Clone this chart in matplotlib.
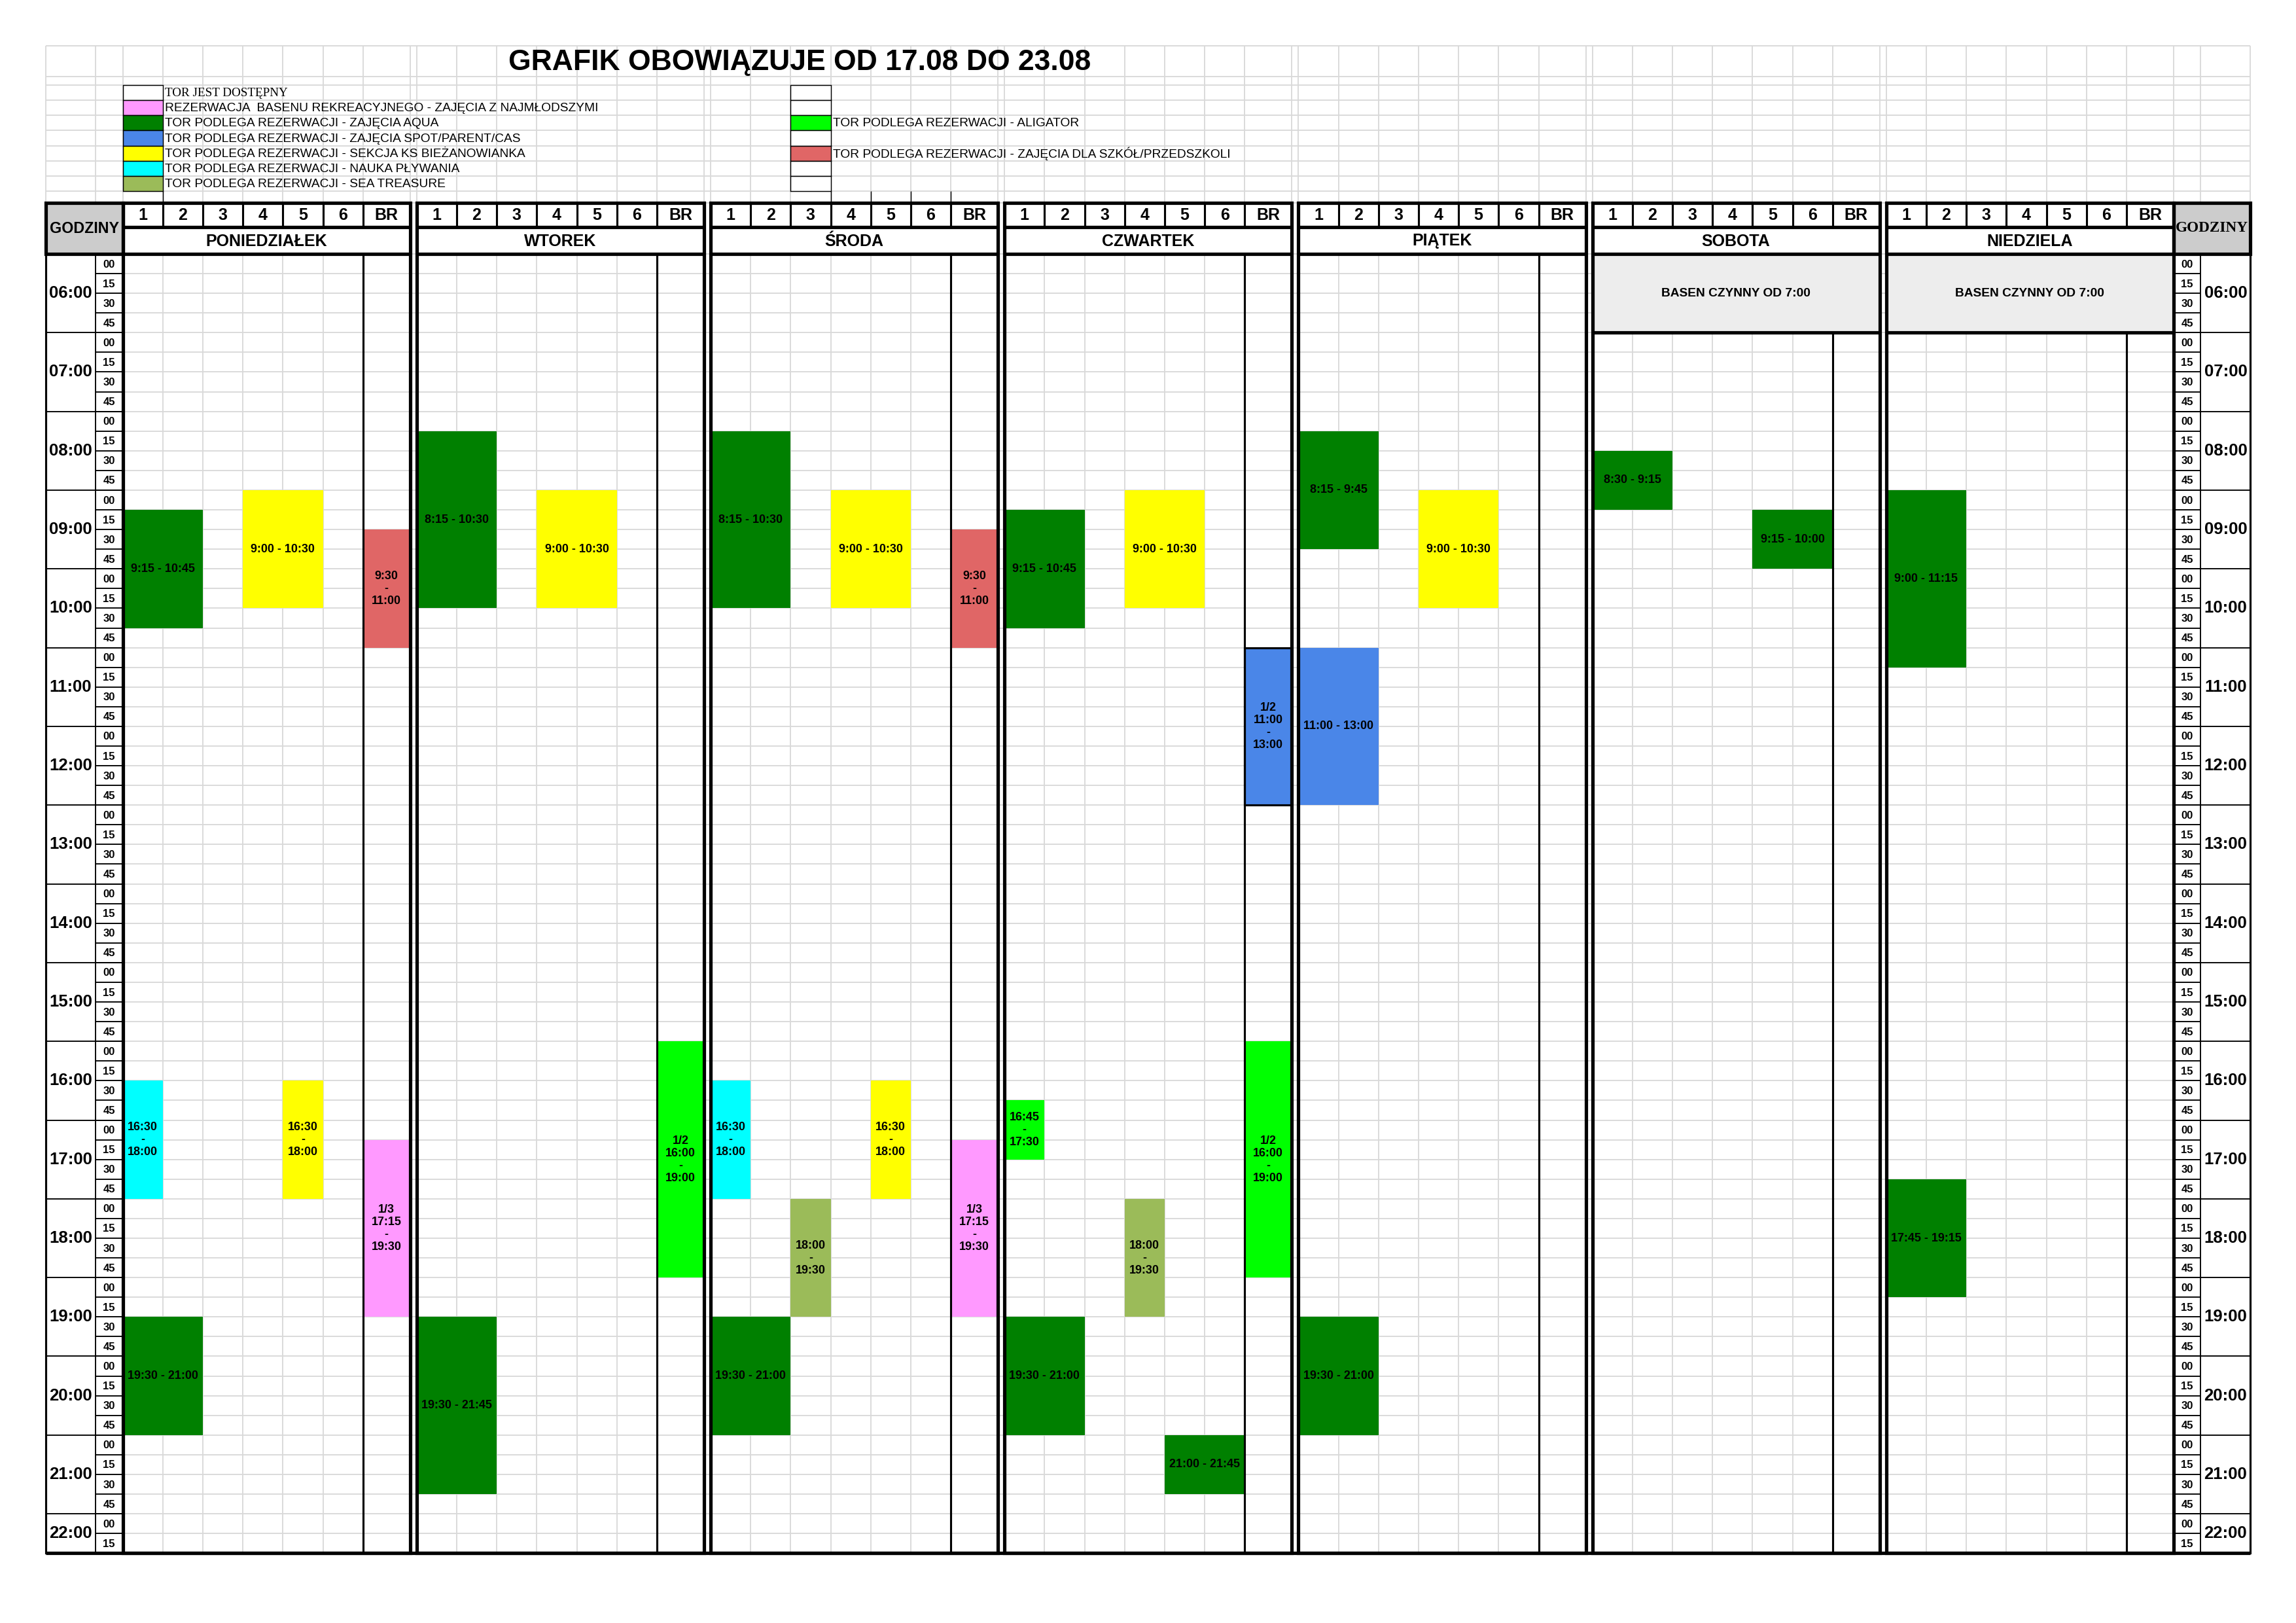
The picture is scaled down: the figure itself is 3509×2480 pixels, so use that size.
import matplotlib
matplotlib.use('Agg')
import matplotlib.pyplot as plt
from matplotlib.patches import Rectangle
from matplotlib import font_manager

# fonts: condensed sans if available
names = {f.name for f in font_manager.fontManager.ttflist}
NARROW = 'Liberation Sans Narrow' if 'Liberation Sans Narrow' in names else 'Liberation Sans'
SANS = 'Liberation Sans'
SERIF = 'Liberation Serif'

# ---------------- data ----------------
title = 'GRAFIK OBOWIĄZUJE OD 17.08 DO 23.08'
days = ['PONIEDZIAŁEK', 'WTOREK', 'ŚRODA', 'CZWARTEK', 'PIĄTEK', 'SOBOTA', 'NIEDZIELA']
lanes = ['1', '2', '3', '4', '5', '6', 'BR']
hours = list(range(6, 23))
minutes = ['00', '15', '30', '45']
last_hour_rows = 2  # 22:00 has only 00 and 15

colors = {
    'wolny': '#FFFFFF',
    'rekre': '#FF99FF',
    'aqua': '#008000',
    'spot': '#4A86E8',
    'ks': '#FFFF00',
    'nauka': '#00FFFF',
    'sea': '#9BBB59',
    'aligator': '#00FF00',
    'szkoly': '#E06666',
}

legend_left_kinds = ['wolny', 'rekre', 'aqua', 'spot', 'ks', 'nauka', 'sea']
legend_left_texts = ['TOR JEST DOSTĘPNY',
                     'REZERWACJA  BASENU REKREACYJNEGO - ZAJĘCIA Z NAJMŁODSZYMI',
                     'TOR PODLEGA REZERWACJI - ZAJĘCIA AQUA',
                     'TOR PODLEGA REZERWACJI - ZAJĘCIA SPOT/PARENT/CAS',
                     'TOR PODLEGA REZERWACJI - SEKCJA KS BIEŻANOWIANKA',
                     'TOR PODLEGA REZERWACJI - NAUKA PŁYWANIA',
                     'TOR PODLEGA REZERWACJI - SEA TREASURE']
legend_right_kinds = [None, None, 'aligator', None, 'szkoly', None, None]
legend_right_texts = ['', '', 'TOR PODLEGA REZERWACJI - ALIGATOR', '',
                      'TOR PODLEGA REZERWACJI - ZAJĘCIA DLA SZKÓŁ/PRZEDSZKOLI', '', '']

closed_days = [5, 6]
closed_until = '7:00'
closed_text = 'BASEN CZYNNY OD 7:00'

# reservations: day, first lane, last lane, start, end, kind, label
blk_day = [0, 0, 0, 0, 0, 0, 0,
           1, 1, 1, 1,
           2, 2, 2, 2, 2, 2, 2, 2,
           3, 3, 3, 3, 3, 3, 3, 3,
           4, 4, 4, 4,
           5, 5,
           6, 6]
blk_l0 = [0, 3, 6, 0, 4, 6, 0,
          0, 3, 6, 0,
          0, 3, 6, 0, 4, 2, 6, 0,
          0, 3, 6, 0, 6, 3, 0, 4,
          0, 3, 0, 0,
          0, 4,
          0, 0]
blk_l1 = [1, 4, 6, 0, 4, 6, 1,
          1, 4, 6, 1,
          1, 4, 6, 0, 4, 2, 6, 1,
          1, 4, 6, 0, 6, 3, 1, 5,
          1, 4, 1, 1,
          1, 5,
          1, 1]
blk_start = ['9:15', '9:00', '9:30', '16:30', '16:30', '17:15', '19:30',
             '8:15', '9:00', '16:00', '19:30',
             '8:15', '9:00', '9:30', '16:30', '16:30', '18:00', '17:15', '19:30',
             '9:15', '9:00', '11:00', '16:45', '16:00', '18:00', '19:30', '21:00',
             '8:15', '9:00', '11:00', '19:30',
             '8:30', '9:15',
             '9:00', '17:45']
blk_end = ['10:45', '10:30', '11:00', '18:00', '18:00', '19:30', '21:00',
           '10:30', '10:30', '19:00', '21:45',
           '10:30', '10:30', '11:00', '18:00', '18:00', '19:30', '19:30', '21:00',
           '10:45', '10:30', '13:00', '17:30', '19:00', '19:30', '21:00', '21:45',
           '9:45', '10:30', '13:00', '21:00',
           '9:15', '10:00',
           '11:15', '19:15']
blk_kind = ['aqua', 'ks', 'szkoly', 'nauka', 'ks', 'rekre', 'aqua',
            'aqua', 'ks', 'aligator', 'aqua',
            'aqua', 'ks', 'szkoly', 'nauka', 'ks', 'sea', 'rekre', 'aqua',
            'aqua', 'ks', 'spot', 'aligator', 'aligator', 'sea', 'aqua', 'aqua',
            'aqua', 'ks', 'spot', 'aqua',
            'aqua', 'aqua',
            'aqua', 'aqua']
blk_label = ['9:15 - 10:45', '9:00 - 10:30', '9:30\n-\n11:00', '16:30\n-\n18:00',
             '16:30\n-\n18:00', '1/3\n17:15\n-\n19:30', '19:30 - 21:00',
             '8:15 - 10:30', '9:00 - 10:30', '1/2\n16:00\n-\n19:00', '19:30 - 21:45',
             '8:15 - 10:30', '9:00 - 10:30', '9:30\n-\n11:00', '16:30\n-\n18:00',
             '16:30\n-\n18:00', '18:00\n-\n19:30', '1/3\n17:15\n-\n19:30', '19:30 - 21:00',
             '9:15 - 10:45', '9:00 - 10:30', '1/2\n11:00\n-\n13:00', '16:45\n-\n17:30',
             '1/2\n16:00\n-\n19:00', '18:00\n-\n19:30', '19:30 - 21:00', '21:00 - 21:45',
             '8:15 - 9:45', '9:00 - 10:30', '11:00 - 13:00', '19:30 - 21:00',
             '8:30 - 9:15', '9:15 - 10:00',
             '9:00 - 11:15', '17:45 - 19:15']
blk_boxed = [(3, 6, '11:00')]  # blocks drawn with a black frame

# ---------------- layout (pixels) ----------------
W, H = 3509, 2480
X0 = 70.0            # left edge of hour column
HOUR_W = 76.0
MIN_W = 41.5
LANE_X0 = X0 + HOUR_W + MIN_W
LANE_W = 61.2
BR_W = 72.0
DAY_W = 6 * LANE_W + BR_W
DAY_PITCH = DAY_W + 10.0
RIGHT_X0 = LANE_X0 + 6 * DAY_PITCH + DAY_W
GRID_X1 = RIGHT_X0 + MIN_W + HOUR_W

Y_TOP = 70.0
Y_TITLE_B = 117.0
Y_LEG0 = 130.0
LEG_H = 23.15
Y_HEAD = 310.0
Y_LANEROW = 347.0
Y_TIME0 = 388.0
ROW_H = 30.08
N_ROWS = (len(hours) - 1) * 4 + last_hour_rows
Y_END = Y_TIME0 + N_ROWS * ROW_H
TITLE_X = 1222.0

GRID_C = '#D9D9D9'
LW_GRID = 0.45
LW_THIN = 0.45
LW_MED = 0.75
LW_THICK = 1.25


def tnum(s):
    h, m = s.split(':')
    return int(h) + int(m) / 60.0


def ty(t):
    return Y_TIME0 + (t - 6) * 4 * ROW_H


def lx(d, l):
    return LANE_X0 + d * DAY_PITCH + l * LANE_W


def rx(d, l):
    return lx(d, l) + (BR_W if l == 6 else LANE_W)


fig = plt.figure(figsize=(W / 300, H / 300), dpi=300)
ax = fig.add_axes([0, 0, 1, 1])
ax.set_xlim(0, W)
ax.set_ylim(H, 0)
ax.axis('off')


def hline(y, x0, x1, c='black', lw=LW_THIN, z=3):
    ax.plot([x0, x1], [y, y], color=c, lw=lw, zorder=z, solid_capstyle='butt')


def vline(x, y0, y1, c='black', lw=LW_THIN, z=3):
    ax.plot([x, x], [y0, y1], color=c, lw=lw, zorder=z, solid_capstyle='butt')


# column boundaries of the sheet
col_edges = [X0, X0 + HOUR_W, LANE_X0]
for d in range(len(days)):
    col_edges += [lx(d, l) for l in range(1, 7)] + [rx(d, 6), rx(d, 6) + 10.0]
col_edges = col_edges[:-1] + [RIGHT_X0 + MIN_W, GRID_X1]

# ---------------- top area grid ----------------
top_rows = [Y_TOP, Y_TITLE_B] + [Y_LEG0 + i * LEG_H for i in range(8)] + [Y_HEAD]
for y in top_rows:
    hline(y, X0, GRID_X1, c=GRID_C, lw=LW_GRID, z=1)
for x in col_edges:
    vline(x, Y_TOP, Y_HEAD, c=GRID_C, lw=LW_GRID, z=1)

ax.text(TITLE_X, (Y_TOP + Y_TITLE_B) / 2 + 2, title, ha='center', va='center',
        fontsize=10.7, fontweight='bold', family=[NARROW, 'DejaVu Sans'], zorder=6)

# legend
sw_left = lx(0, 0)
sw_right = lx(2, 2)
for i in range(7):
    y0 = Y_LEG0 + i * LEG_H
    ax.add_patch(Rectangle((sw_left, y0), LANE_W, LEG_H, facecolor=colors[legend_left_kinds[i]],
                           edgecolor='black', lw=0.35, zorder=4))
    fam = [SERIF] if i == 0 else [NARROW, 'DejaVu Sans']
    ax.text(sw_left + LANE_W + 3, y0 + LEG_H / 2 + 1, legend_left_texts[i], ha='left', va='center',
            fontsize=4.6, family=fam, zorder=6)
    kind = legend_right_kinds[i]
    ax.add_patch(Rectangle((sw_right, y0), LANE_W, LEG_H,
                           facecolor=colors[kind] if kind else 'white',
                           edgecolor='black', lw=0.35, zorder=4))
    if legend_right_texts[i]:
        ax.text(sw_right + LANE_W + 3, y0 + LEG_H / 2 + 1, legend_right_texts[i], ha='left',
                va='center', fontsize=4.6, family=[NARROW, 'DejaVu Sans'], zorder=6)
y_leg_end = Y_LEG0 + 7 * LEG_H
vline(sw_left + LANE_W, y_leg_end, Y_HEAD, lw=0.35)
for l in range(3, 7):
    vline(lx(2, l), y_leg_end, Y_HEAD, lw=0.35)

# ---------------- schedule grid ----------------
for r in range(N_ROWS + 1):
    hline(Y_TIME0 + r * ROW_H, LANE_X0, RIGHT_X0, c=GRID_C, lw=LW_GRID, z=1)
for d in range(len(days)):
    for l in range(1, 6):
        vline(lx(d, l), Y_TIME0, Y_END, c=GRID_C, lw=LW_GRID, z=1)

# closed mornings on weekend
for d in closed_days:
    y1 = ty(tnum(closed_until))
    ax.add_patch(Rectangle((lx(d, 0), Y_TIME0), DAY_W, y1 - Y_TIME0, facecolor='#EDEDED',
                           edgecolor='none', zorder=2))
    hline(y1, lx(d, 0), rx(d, 6), lw=LW_THICK, z=5)
    ax.text(lx(d, 0) + DAY_W / 2, (Y_TIME0 + y1) / 2, closed_text, ha='center', va='center',
            fontsize=4.6, fontweight='bold', family=[NARROW, 'DejaVu Sans'], zorder=6)

# reservations
for i in range(len(blk_day)):
    d, a, b = blk_day[i], blk_l0[i], blk_l1[i]
    t0, t1 = tnum(blk_start[i]), tnum(blk_end[i])
    x0, x1 = lx(d, a), rx(d, b)
    y0, y1 = ty(t0), ty(t1)
    boxed = (d, a, blk_start[i]) in blk_boxed
    ax.add_patch(Rectangle((x0, y0), x1 - x0, y1 - y0, facecolor=colors[blk_kind[i]],
                           edgecolor='black' if boxed else 'none',
                           lw=LW_MED if boxed else 0, zorder=2))
    ax.text((x0 + x1) / 2, (y0 + y1) / 2, blk_label[i], ha='center', va='center',
            fontsize=4.3, fontweight='bold', family=[SANS, 'DejaVu Sans'],
            linespacing=1.15, zorder=6)

# ---------------- header and borders ----------------
for d, name in enumerate(days):
    x0, x1 = lx(d, 0), rx(d, 6)
    for l, lab in enumerate(lanes):
        vline(lx(d, l), Y_HEAD, Y_LANEROW, lw=LW_MED)
        ax.text((lx(d, l) + rx(d, l)) / 2, (Y_HEAD + Y_LANEROW) / 2 + 1, lab, ha='center',
                va='center', fontsize=6.0, fontweight='bold', family=[NARROW, 'DejaVu Sans'],
                zorder=6)
    hline(Y_LANEROW, x0, x1, lw=LW_THICK)
    hline(Y_TIME0, x0, x1, lw=LW_THICK)
    ax.text((x0 + x1) / 2, (Y_LANEROW + Y_TIME0) / 2 + 1, name, ha='center', va='center',
            fontsize=6.0, fontweight='bold', family=[NARROW, 'DejaVu Sans'], zorder=6)
    br_top = ty(tnum(closed_until)) if d in closed_days else Y_TIME0
    vline(lx(d, 6), br_top, Y_END, lw=LW_MED, z=4)
    ax.add_patch(Rectangle((x0, Y_HEAD), x1 - x0, Y_END - Y_HEAD, facecolor='none',
                           edgecolor='black', lw=LW_THICK, zorder=5))

# hour columns (left and right)
for side in ('left', 'right'):
    if side == 'left':
        hx0, mx0 = X0, X0 + HOUR_W
    else:
        mx0, hx0 = RIGHT_X0, RIGHT_X0 + MIN_W
    cx0 = min(hx0, mx0)
    ax.add_patch(Rectangle((cx0, Y_HEAD), HOUR_W + MIN_W, Y_TIME0 - Y_HEAD, facecolor='#CCCCCC',
                           edgecolor='black', lw=LW_THICK, zorder=4))
    ax.text(cx0 + (HOUR_W + MIN_W) / 2, (Y_HEAD + Y_TIME0) / 2, 'GODZINY', ha='center',
            va='center', fontsize=5.6, fontweight='bold',
            family=[NARROW, 'DejaVu Sans'] if side == 'left' else [SERIF], zorder=6)
    ax.add_patch(Rectangle((cx0, Y_TIME0), HOUR_W + MIN_W, Y_END - Y_TIME0, facecolor='none',
                           edgecolor='black', lw=LW_MED, zorder=5))
    vline(mx0 if side == 'left' else mx0 + MIN_W, Y_TIME0, Y_END, lw=LW_THIN)
    for k, h in enumerate(hours):
        nrows = 4 if h != hours[-1] else last_hour_rows
        y0 = ty(h)
        hline(y0, cx0, cx0 + HOUR_W + MIN_W, lw=LW_THIN)
        ax.text(hx0 + HOUR_W / 2, y0 + nrows * ROW_H / 2, '%02d:00' % h, ha='center',
                va='center', fontsize=6.2, fontweight='bold', family=[NARROW, 'DejaVu Sans'],
                zorder=6)
        for m in range(nrows):
            ym = y0 + m * ROW_H
            hline(ym, mx0, mx0 + MIN_W, lw=LW_THIN)
            ax.text(mx0 + MIN_W / 2, ym + ROW_H / 2 + 1, minutes[m], ha='center', va='center',
                    fontsize=4.0, fontweight='bold', family=[NARROW, 'DejaVu Sans'], zorder=6)
hline(Y_END, X0, GRID_X1, lw=LW_THICK, z=5)

fig.savefig('out.png', dpi=300, facecolor='white')
